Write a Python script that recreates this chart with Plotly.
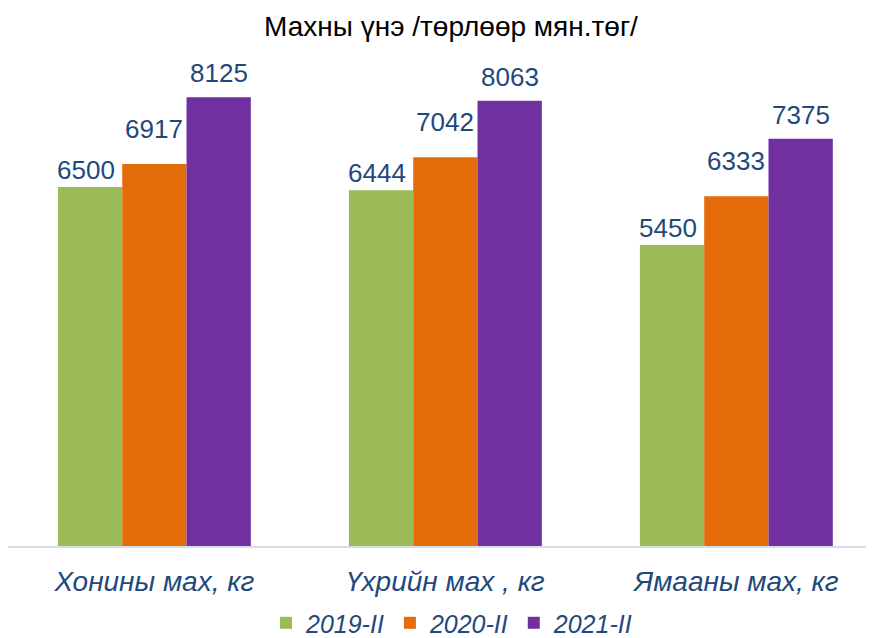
import plotly.graph_objects as go

categories = ["Хонины мах, кг", "Үхрийн мах , кг", "Ямааны мах, кг"]
series_names = ["2019-II", "2020-II", "2021-II"]
values_2019 = [6500, 6444, 5450]
values_2020 = [6917, 7042, 6333]
values_2021 = [8125, 8063, 7375]
colors = ["#9BBB59", "#E46C0A", "#7030A0"]

text_color = "#1F497D"
font_family = "Liberation Sans, Arial, sans-serif"

W, H = 866, 646
x_range = [-0.503, 2.473]
bargap = 0.337
px_per_cat = W / (x_range[1] - x_range[0])
bar_px = px_per_cat * (1 - bargap) / 3

# label placement per series (pixel offsets, style only)
label_xshift = [-bar_px - 4, 0, bar_px]
label_yshift = [0, 18, 7]

fig = go.Figure()
all_series = [values_2019, values_2020, values_2021]
for i, (name, vals, col) in enumerate(zip(series_names, all_series, colors)):
    fig.add_trace(go.Bar(
        x=categories, y=vals, name=name,
        marker=dict(color=col, line=dict(width=0)),
        cliponaxis=False,
    ))
    for cat, v in zip(categories, vals):
        fig.add_annotation(
            x=cat, y=v, xref="x", yref="y", text=str(v), showarrow=False,
            xanchor="center", yanchor="bottom",
            xshift=label_xshift[i], yshift=label_yshift[i],
            font=dict(size=26, color=text_color, family=font_family),
        )

top, plot_h = 41, 497
fig.update_layout(
    width=W, height=H,
    margin=dict(l=0, r=0, t=top, b=H - top - plot_h, autoexpand=False),
    paper_bgcolor="white", plot_bgcolor="white",
    barmode="group", bargap=bargap, bargroupgap=0,
    title=dict(text="Махны үнэ /төрлөөр мян.төг/", x=443 / W, xanchor="center",
               y=1 - 18 / H, yanchor="middle",
               font=dict(size=28, color="black", family=font_family)),
    xaxis=dict(range=x_range, showgrid=False, showline=True,
               linecolor="#D5DFEA", linewidth=2, ticks="",
               tickfont=dict(size=28, color=text_color, family=font_family, style="italic"),
               ticklabelstandoff=9),
    yaxis=dict(range=[0, 9000], showgrid=False, showticklabels=False,
               zeroline=False, showline=False),
    legend=dict(orientation="h", x=444 / W, xanchor="center", y=-0.155, yanchor="middle",
                font=dict(size=25, color=text_color, family=font_family, style="italic"),
                itemwidth=30, tracegroupgap=0),
    showlegend=True,
)

fig.write_html("out.html")
